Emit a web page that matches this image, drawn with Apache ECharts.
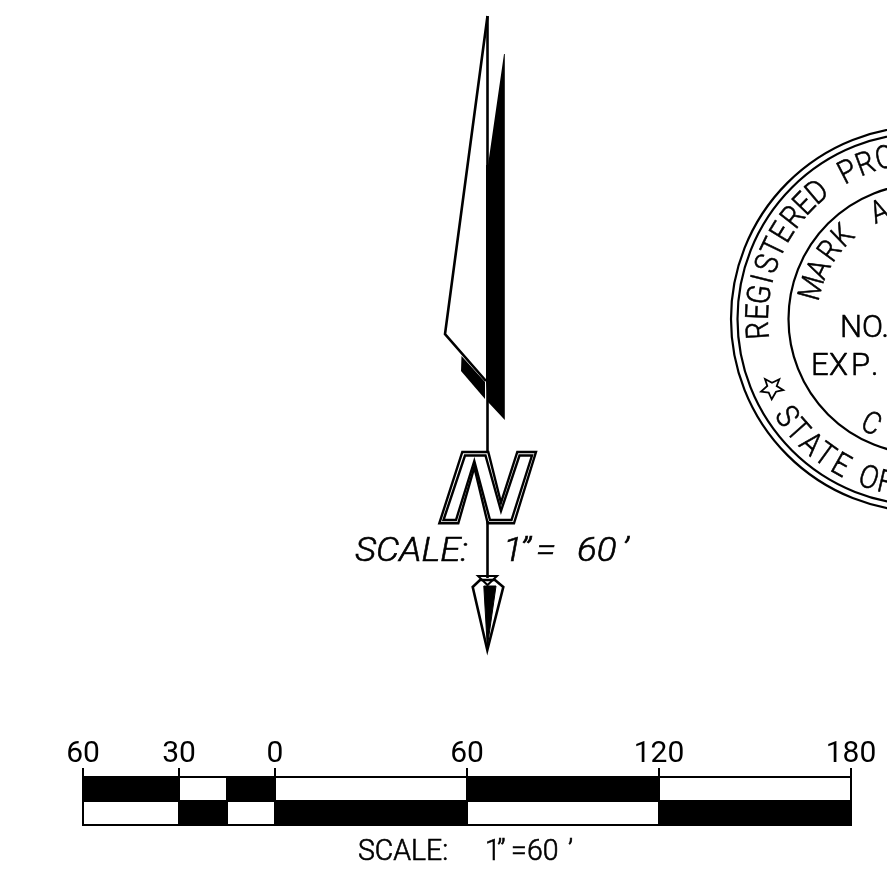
<!DOCTYPE html>
<html><head><meta charset="utf-8">
<style>html,body{margin:0;padding:0;background:#fff}#c{width:887px;height:893px}</style>
<script src="https://cdn.jsdelivr.net/npm/echarts@6/dist/echarts.min.js"></script>
</head><body><div id="c"></div>
<script>
// Scale bar: distances in feet
const scaleEdges = [-60,-30,-15,0,60,120,180];
const topRowBlack = [1,0,1,0,1,0];
const bottomRowBlack = [0,1,0,1,0,1];
const scaleTicks = [-60,-30,0,60,120,180];
// North arrow geometry
const bladeOutline = [[487.5,16],[445,334],[486,381]];
const shaft = [[487.5,16],[487.5,452]];
const shaftLower = [[487.5,521],[487.5,578]];
const bladeBlack = [[504,54],[504.8,54],[504.8,420],[488,402],[486,382],[486,165],[488,165]];
const shadowBlack = [[461.5,356],[485,382],[485,399],[461,371]];
const nOuter = [[462.3,452],[488.3,452],[501,502.7],[517.3,452],[536,452],[514,523.3],[487.7,523.3],[474.3,467.3],[458.3,523.3],[439.3,523.3]];
const nInner = [[465,455.5],[485.5,455.5],[501,511],[519.5,455.5],[532,455.5],[511.5,520],[490,520],[474.3,461],[456,520],[443.5,520]];
const tailOutline = [[472.7,587],[480,580],[495,580],[503.3,587],[487.3,650]];
const tailCross = [[478,576],[497,576],[487.5,585],[478,576]];
const tailBlack = [[483.8,586],[496,586],[487.3,647]];
// Seal
const sealCenter = [923.5,319];
const sealRadii = [192.5,186,135];
const outerLetters = [['R',-4],['E',2.5],['G',8.5],['I',14],['S',19.5],['T',25.5],['E',31.5],['R',38],['E',44],['D',50],['P',62.7],['R',69.4],['O',76.5]];
const innerLetters = [['M',15.5],['A',25.5],['R',36],['K',46],['A',67.7]];
const lowerInner = [['C',-63.5]];
const lowerOuter = [['S',-35.5],['T',-41.5],['A',-48],['T',-54],['E',-60.5],['O',-71],['F',-77]];
const star = [[765,379],[772,382.7],[779.3,379.3],[776.7,386],[783.3,390],[776,391.7],[771.7,399.3],[768.7,392.7],[761,391.7],[767.3,386]];
// Free text: text, x, y
const sealLines = [['NO.',840,329],['E',811,367],['X',829,367],['P',851,367],['.',871,367]];
const italicParts = [['SCALE:',355,552],['1',503,552],['”',520,552],['=',536,552],['60',577,552],['’',622,552]];
const scaleNote = [['SCALE:',358,853],['1',485,853],['”',497,853],['=',511,853],['60',527,853],['’',568,853]];

const FONT = 'Roboto, "Liberation Sans", sans-serif';
function shape(points, opt){
  return {type:'custom',xAxisIndex:0,yAxisIndex:0,coordinateSystem:'cartesian2d',clip:false,silent:true,data:points,z:opt.z||2,
    renderItem:(p,api)=>p.dataIndex?null:{type:opt.open?'polyline':'polygon',
      shape:{points:points.map(q=>api.coord(q))},
      style:{fill:opt.fill||(opt.open?null:'none'),stroke:'#000',lineWidth:opt.lw===undefined?2.6:opt.lw,lineJoin:'miter'}}};
}
function circles(radii){
  return {type:'custom',xAxisIndex:0,yAxisIndex:0,clip:false,silent:true,data:radii.map(r=>[sealCenter[0],sealCenter[1],r]),
    renderItem:(p,api)=>{const c=api.coord([api.value(0),api.value(1)]);
      return {type:'circle',shape:{cx:c[0],cy:c[1],r:api.size([api.value(2),0])[0]},style:{fill:'none',stroke:'#000',lineWidth:2.2}};}};
}
function arcText(letters,r,size,upper){
  return {type:'custom',xAxisIndex:0,yAxisIndex:0,clip:false,silent:true,data:letters.map(l=>[l[1]]),
    renderItem:(p,api)=>{const phi=api.value(0)*Math.PI/180;
      const c=api.coord([sealCenter[0]-r*Math.cos(phi),sealCenter[1]-r*Math.sin(phi)]);
      const cw=upper?phi-Math.PI/2:phi+Math.PI/2;
      return {type:'text',x:c[0],y:c[1],rotation:-cw,scaleX:0.88,
        style:{text:letters[p.dataIndex][0],fill:'#000',stroke:'#000',lineWidth:0.6,font:'300 '+size+'px '+FONT,align:'center',verticalAlign:'middle'}};}};
}
function freeText(parts,size,italic,sx){
  return {type:'custom',xAxisIndex:0,yAxisIndex:0,clip:false,silent:true,data:parts.map(t=>[t[1],t[2]]),
    renderItem:(p,api)=>{const c=api.coord([api.value(0),api.value(1)]);
      return {type:'text',x:c[0],y:c[1],scaleX:sx||1,
        style:{text:parts[p.dataIndex][0],fill:'#000',stroke:'#000',lineWidth:0.6,font:(italic?'italic ':'')+'300 '+size+'px '+FONT,align:'left',verticalAlign:'middle'}};}};
}
function scaleRow(black,row,color){
  const items=[];black.forEach((b,i)=>{if(b===color)items.push([scaleEdges[i],scaleEdges[i+1],row]);});
  return {type:'custom',xAxisIndex:1,yAxisIndex:1,clip:false,silent:true,data:items,z:color?4:3,
    renderItem:(p,api)=>{const a=api.coord([api.value(0),api.value(2)+1]),b=api.coord([api.value(1),api.value(2)]);
      return {type:'rect',shape:{x:a[0],y:a[1],width:b[0]-a[0],height:b[1]-a[1]},
        style:{fill:color?'#000':'#fff',stroke:'#000',lineWidth:2}};}};
}
const tickMarks = {type:'custom',xAxisIndex:1,yAxisIndex:1,clip:false,silent:true,z:5,data:scaleTicks.map(v=>[v,2]),
  renderItem:(p,api)=>{const c=api.coord([api.value(0),api.value(1)]);
    return {type:'line',shape:{x1:c[0],y1:c[1]-9,x2:c[0],y2:c[1]},style:{stroke:'#000',lineWidth:2}};}};
const chart=echarts.init(document.getElementById('c'),null,{renderer:'canvas'});
chart.setOption({
  animation:false,backgroundColor:'#fff',
  grid:[{left:0,top:0,width:887,height:893,containLabel:false},{left:83,width:768,top:777,height:48,containLabel:false}],
  xAxis:[
    {type:'value',gridIndex:0,min:0,max:887,show:false},
    {type:'value',gridIndex:1,position:'top',min:-60,max:180,splitLine:{show:false},
     axisLine:{show:true,lineStyle:{color:'#000',width:2}},
     axisTick:{show:false},
     axisLabel:{show:true,customValues:scaleTicks,margin:8,fontFamily:FONT,fontWeight:400,fontSize:30,color:'#000',formatter:v=>String(Math.abs(v))}}
  ],
  yAxis:[
    {type:'value',gridIndex:0,min:0,max:893,inverse:true,show:false},
    {type:'value',gridIndex:1,min:0,max:2,show:false}
  ],
  series:[
    shape(bladeBlack,{fill:'#000',lw:0}),
    shape(shadowBlack,{fill:'#000',lw:0}),
    shape(bladeOutline,{open:true}),
    shape(shaft,{open:true}),
    shape(shaftLower,{open:true}),
    shape(nOuter,{lw:2.4}),
    shape(nInner,{lw:2.4}),
    shape(tailOutline,{lw:2.6}),
    shape(tailCross,{lw:2}),
    shape(tailBlack,{fill:'#000',lw:1}),
    circles(sealRadii),
    arcText(outerLetters,163.5,32,true),
    arcText(innerLetters,114,31,true),
    arcText(lowerInner,119,31,false),
    arcText(lowerOuter,170,32,false),
    shape(star,{lw:1.8}),
    freeText(sealLines,31,false,1.0),
    freeText(italicParts,34,true,1.08),
    freeText(scaleNote,29,false,0.98),
    scaleRow(topRowBlack,1,0),scaleRow(bottomRowBlack,0,0),
    scaleRow(topRowBlack,1,1),scaleRow(bottomRowBlack,0,1),
    tickMarks
  ]
});
</script></body></html>
